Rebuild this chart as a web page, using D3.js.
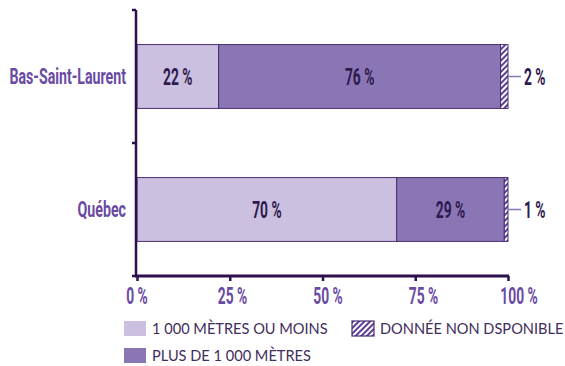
<!DOCTYPE html>
<html>
<head>
<meta charset="utf-8">
<script src="https://cdn.jsdelivr.net/npm/d3@7"></script>
<style>
  html, body { margin: 0; padding: 0; background: #fff; }
  svg { display: block; }
  .cond { font-family: "Roboto", "DejaVu Sans", sans-serif; font-weight: 700; }
  .leg { font-family: "Lato", "Open Sans", sans-serif; font-weight: 400; }
</style>
</head>
<body>
<svg id="chart" width="565" height="366"></svg>
<script>
// Distance to the nearest service, share of population by region
const regions = ["Bas-Saint-Laurent", "Québec"];
const nearShare = [22, 70];      // 1 000 mètres ou moins
const farShare = [76, 29];       // plus de 1 000 mètres
const missingShare = [2, 1];     // donnée non disponible
const tickValues = [0, 25, 50, 75, 100];
const legendLabels = ["1 000 MÈTRES OU MOINS", "PLUS DE 1 000 MÈTRES", "DONNÉE NON DSPONIBLE"];

const colors = { near: "#cbc0df", far: "#8b76b5", hatch: "#5c3d97", edge: "#4a2d74", axis: "#2c0f4e", label: "#6a4ba4", value: "#2e1a4f", leader: "#8b76b5", legend: "#3f2e5c" };

const svg = d3.select("#chart");
const margin = { left: 137, right: 57, top: 10, bottom: 90 };
const W = 565, H = 366;

const x = d3.scaleLinear().domain([0, 100]).range([margin.left, W - margin.right]);
// tick labels are spread a little wider than the axis itself
const xLabel = d3.scaleLinear().domain([0, 100]).range([x(0), x(100) + 11]);
const y = d3.scaleBand().domain(regions).range([margin.top, H - margin.bottom]).paddingInner(0.52).paddingOuter(0.26);

// condensed label: a group at (px, py) holding a horizontally squeezed text
function condText(parent, px, py, str, opts) {
  const gg = parent.append("g").attr("transform", `translate(${px},${py})`);
  gg.append("text").attr("class", "cond")
    .attr("transform", `scale(${opts.squeeze || 0.6},1)`)
    .attr("text-anchor", opts.anchor || "middle")
    .attr("dy", opts.dy || "0.36em")
    .attr("font-size", opts.size || 22)
    .attr("fill", opts.fill)
    .text(str);
  return gg;
}

// hatch pattern for missing data
const defs = svg.append("defs");
const pat = defs.append("pattern").attr("id", "hatch").attr("patternUnits", "userSpaceOnUse")
  .attr("width", 4).attr("height", 4).attr("patternTransform", "rotate(45)");
pat.append("rect").attr("width", 4).attr("height", 4).attr("fill", "#fff");
pat.append("rect").attr("width", 2).attr("height", 4).attr("fill", colors.hatch);

const rows = regions.map((r, i) => ({
  region: r,
  segs: [
    { key: "near", v0: 0, v1: nearShare[i], val: nearShare[i] },
    { key: "far", v0: nearShare[i], v1: nearShare[i] + farShare[i], val: farShare[i] },
    { key: "missing", v0: nearShare[i] + farShare[i], v1: nearShare[i] + farShare[i] + missingShare[i], val: missingShare[i] }
  ]
}));

const g = svg.append("g");
rows.forEach(row => {
  const y0 = y(row.region), bh = y.bandwidth(), cy = y0 + bh / 2;
  row.segs.forEach(s => {
    g.append("rect")
      .attr("x", x(s.v0)).attr("y", y0)
      .attr("width", x(s.v1) - x(s.v0)).attr("height", bh)
      .attr("fill", s.key === "missing" ? "url(#hatch)" : colors[s.key])
      .attr("stroke", colors.edge).attr("stroke-width", 1);
    if (s.key !== "missing") {
      condText(g, (x(s.v0) + x(s.v1)) / 2, cy, s.val + " %", { fill: colors.value, size: 23 });
    } else {
      g.append("line").attr("x1", x(s.v1)).attr("x2", x(s.v1) + 13)
        .attr("y1", cy).attr("y2", cy).attr("stroke", colors.leader).attr("stroke-width", 1.5);
      condText(g, x(s.v1) + 16, cy, s.val + " %", { fill: colors.value, size: 23, anchor: "start" });
    }
  });
});

// Y axis: vertical line with ticks on band boundaries
const yAxisG = svg.append("g");
const yBounds = [margin.top, (y(regions[0]) + y.bandwidth() + y(regions[1])) / 2, H - margin.bottom];
yAxisG.append("line").attr("x1", x(0) - 1).attr("x2", x(0) - 1)
  .attr("y1", margin.top).attr("y2", H - margin.bottom).attr("stroke", colors.axis).attr("stroke-width", 2.5);
yBounds.forEach(b => yAxisG.append("line").attr("x1", x(0) - 5).attr("x2", x(0) - 1)
  .attr("y1", b).attr("y2", b).attr("stroke", colors.axis).attr("stroke-width", 2.5));
regions.forEach(r => condText(yAxisG, x(0) - 11, y(r) + y.bandwidth() / 2, r,
  { fill: colors.label, size: 21.5, anchor: "end", squeeze: 0.66 }));

// X axis
const xAxis = d3.axisBottom(x).tickValues(tickValues).tickSize(5).tickSizeOuter(0).tickFormat("");
const xg = svg.append("g").attr("transform", `translate(0,${H - margin.bottom})`).call(xAxis);
xg.select(".domain").attr("stroke", colors.axis).attr("stroke-width", 3)
  .attr("d", `M${x(0) - 2},0H${x(100) + 1}`);
xg.selectAll(".tick line").attr("stroke", colors.axis).attr("stroke-width", 2.5);
const xLabels = svg.append("g").attr("transform", `translate(0,${H - margin.bottom})`);
tickValues.forEach(d => condText(xLabels, xLabel(d), 19.5, d + " %", { fill: colors.label, size: 23 }));

// Legend
const leg = svg.append("g");
const legItems = [
  { label: legendLabels[0], fill: colors.near, x: 124, y: 321 },
  { label: legendLabels[1], fill: colors.far, x: 124, y: 348 },
  { label: legendLabels[2], fill: "url(#hatch)", x: 352, y: 321, stroke: true }
];
legItems.forEach(it => {
  leg.append("rect").attr("x", it.x).attr("y", it.y).attr("width", 22).attr("height", 15)
    .attr("fill", it.fill).attr("stroke", it.stroke ? colors.edge : "none").attr("stroke-width", 1.2);
  leg.append("text").attr("class", "leg").attr("x", it.x + 28).attr("y", it.y + 8).attr("dy", "0.36em")
    .attr("font-size", 14.6).attr("fill", colors.legend).text(it.label);
});
</script>
</body>
</html>
